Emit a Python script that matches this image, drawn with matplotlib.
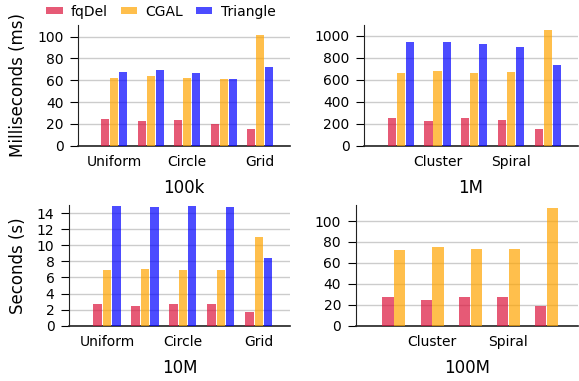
import numpy as np
import matplotlib.pyplot as plt

# benchmark timings
groups = ['Uniform', 'Cluster', 'Circle', 'Spiral', 'Grid']
methods = ['fqDel', 'CGAL', 'Triangle']
colors = ['crimson', 'orange', 'blue']

fqdel_100k = [24.8, 22.6, 23.9, 20.2, 15.6]
cgal_100k = [62.4, 64.2, 62.4, 61.5, 101.6]
tri_100k = [67.9, 69.7, 67.0, 61.3, 72.5]

fqdel_1m = [256, 229, 256, 238, 155]
cgal_1m = [659, 677, 659, 668, 1052]
tri_1m = [942, 942, 924, 896, 732]

fqdel_10m = [2.74, 2.49, 2.74, 2.74, 1.74]
cgal_10m = [6.98, 7.1, 6.98, 6.98, 10.97]
tri_10m = [14.83, 14.7, 14.83, 14.7, 8.47]

# Triangle did not finish at 100M
fqdel_100m = [27.7, 24.8, 27.7, 27.7, 19.1]
cgal_100m = [72.6, 75.5, 73.6, 73.6, 112.7]

sizes = ['100k', '1M', '10M', '100M']
data = [[fqdel_100k, cgal_100k, tri_100k],
        [fqdel_1m, cgal_1m, tri_1m],
        [fqdel_10m, cgal_10m, tri_10m],
        [fqdel_100m, cgal_100m]]
ylims = [110.7, 1100, 15.0, 115.3]
yticks = [np.arange(0, 101, 20), np.arange(0, 1001, 200),
          np.arange(0, 15, 2), np.arange(0, 101, 20)]

fig = plt.figure(figsize=(5.79, 3.81), dpi=100)
W, H = 579.0, 381.0
# axes boxes in pixels: left, top, right, bottom
boxes = [(78, 25, 290, 145.7), (364, 25, 578, 145.7),
         (69, 205, 290, 325.7), (355.7, 205, 578, 325.7)]

x = np.arange(len(groups))
axes = []
for i, (l, t, r, b) in enumerate(boxes):
    ax = fig.add_axes([l / W, 1 - b / H, (r - l) / W, (b - t) / H])
    axes.append(ax)
    series = data[i]
    n = len(series)
    if n == 3:
        step, width = 0.247, 0.22
    else:
        step, width = 0.31, 0.29
    for j, vals in enumerate(series):
        off = (j - (n - 1) / 2) * step
        ax.bar(x + off, vals, width=width, color=colors[j], alpha=0.7,
               label=methods[j], zorder=3)
    ax.set_xlim(-1.0, 4.82)
    ax.set_ylim(0, ylims[i])
    ax.set_yticks(yticks[i])
    ax.grid(axis='y', color='#cccccc', linewidth=1, zorder=0)
    ax.spines['top'].set_visible(False)
    ax.spines['right'].set_visible(False)
    ax.spines['left'].set_color('#222222')
    ax.spines['bottom'].set_color('#222222')
    ax.spines['bottom'].set_linewidth(1.2)
    ax.tick_params(axis='x', length=0, labelsize=10, pad=7)
    ax.tick_params(axis='y', labelsize=10, length=5.5, pad=5)
    # left column shows even groups, right column the odd ones
    if i % 2 == 0:
        ax.set_xticks([0, 2, 4])
        ax.set_xticklabels([groups[0], groups[2], groups[4]])
    else:
        ax.set_xticks([1, 3])
        ax.set_xticklabels([groups[1], groups[3]])
    ax.set_xlabel(sizes[i], fontsize=12, labelpad=7)

axes[0].set_ylabel('Milliseconds (ms)', fontsize=12, labelpad=7)
axes[2].set_ylabel('Seconds (s)', fontsize=12, labelpad=7)

handles, labels = axes[0].get_legend_handles_labels()
fig.legend(handles, labels, loc='upper left', bbox_to_anchor=(0.058, 1.02),
           ncol=3, frameon=False, fontsize=10, handlelength=1.2,
           handleheight=0.4, columnspacing=0.9, handletextpad=0.6)

fig.savefig('out.png', dpi=100)
